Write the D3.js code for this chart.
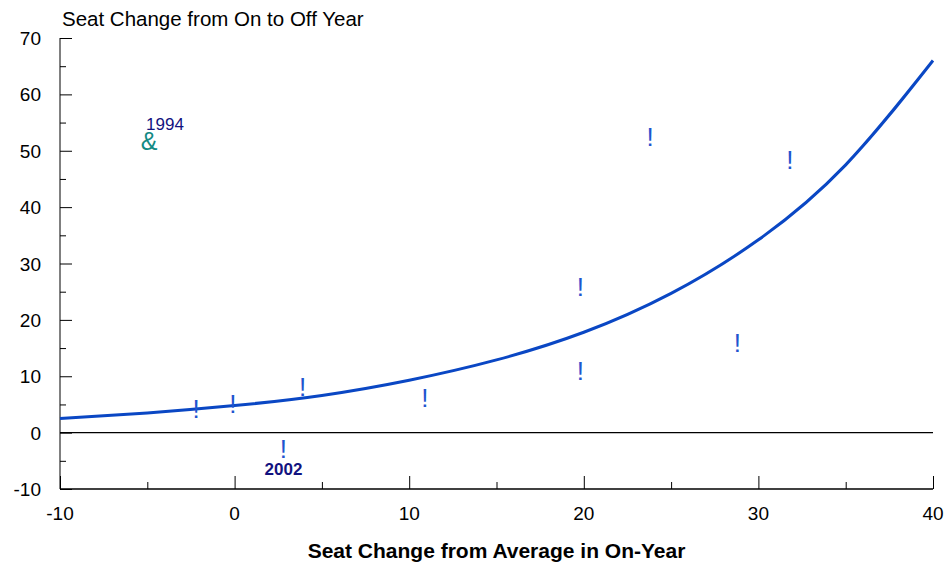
<!DOCTYPE html>
<html>
<head>
<meta charset="utf-8">
<script src="https://cdn.jsdelivr.net/npm/d3@7"></script>
<style>
  body { margin: 0; background: #fff; }
  text { font-family: "Liberation Sans", Arial, sans-serif; }
</style>
</head>
<body>
<svg id="chart" width="948" height="565"></svg>
<script>
// observed elections: seat change from average in on-year (x) vs change to off-year (y)
const pointX = [-2.2, -0.1, 3.9, 10.9, 2.8, 19.8, 19.8, 23.8, 31.8, 28.8];
const pointY = [4.2, 5.1, 8.1, 6.2, -2.9, 25.8, 10.9, 52.4, 48.3, 15.9];
const pointLabel = ["", "", "", "", "2002", "", "", "", "", ""];

// 1994 drawn with its own symbol
const outlierX = [-4.9];
const outlierY = [51.7];
const outlierLabel = ["1994"];

// fitted curve
const curveX = [-10, -5, 0, 5, 10, 15, 20, 25, 30, 35, 40];
const curveY = [2.5, 3.5, 4.8, 6.6, 9.3, 12.9, 17.8, 24.7, 34.2, 47.5, 66];

const xTicks = [-10, 0, 10, 20, 30, 40];
const yTicks = [-10, 0, 10, 20, 30, 40, 50, 60, 70];

const svg = d3.select("#chart");
const x = d3.scaleLinear().domain([-10, 40]).range([60, 933]);
const y = d3.scaleLinear().domain([-10, 70]).range([489, 38]);

// y axis, ticks pointing inward
const yAxis = d3.axisRight(y)
  .tickValues(d3.range(-10, 71, 5))
  .tickSize(6)
  .tickFormat("");
const gy = svg.append("g").attr("transform", "translate(60,0)").call(yAxis);
gy.selectAll(".tick line").filter(d => d % 10 === 0).attr("x2", 12);
gy.select(".domain").attr("d", "M0,38V489");

svg.append("g").selectAll("text")
  .data(yTicks)
  .enter().append("text")
  .attr("x", 41)
  .attr("y", d => y(d) + 7)
  .attr("text-anchor", "end")
  .attr("font-size", 19)
  .text(d => d);

// x axis, ticks pointing up
const xAxis = d3.axisTop(x)
  .tickValues(d3.range(-10, 41, 5))
  .tickSize(7)
  .tickFormat("");
const gx = svg.append("g").attr("transform", "translate(0,489)").call(xAxis);
gx.selectAll(".tick line").filter(d => d % 10 === 0).attr("y2", -13);
gx.select(".domain").attr("d", "M60,0H933").attr("stroke-width", 1.5);

svg.append("g").selectAll("text")
  .data(xTicks)
  .enter().append("text")
  .attr("x", d => x(d))
  .attr("y", 520)
  .attr("text-anchor", "middle")
  .attr("font-size", 19)
  .text(d => d);

// zero line
svg.append("line")
  .attr("x1", x(-10)).attr("x2", x(40))
  .attr("y1", y(0)).attr("y2", y(0))
  .attr("stroke", "#000").attr("stroke-width", 1.3);

// curve
const line = d3.line()
  .x((d, i) => x(curveX[i]))
  .y(d => y(d))
  .curve(d3.curveNatural);
svg.append("path")
  .datum(curveY)
  .attr("d", line)
  .attr("fill", "none")
  .attr("stroke", "#0a47c4")
  .attr("stroke-width", 3);

// points
const pts = pointX.map((d, i) => ({ x: d, y: pointY[i], label: pointLabel[i] }));

svg.append("g").selectAll("text")
  .data(pts)
  .enter().append("text")
  .attr("x", d => x(d.x))
  .attr("y", d => y(d.y) + 9)
  .attr("text-anchor", "middle")
  .attr("font-size", 26)
  .attr("fill", "#1f55cf")
  .text("!");

svg.append("g").selectAll("text")
  .data(pts.filter(d => d.label !== ""))
  .enter().append("text")
  .attr("x", d => x(d.x))
  .attr("y", d => y(d.y) + 26)
  .attr("text-anchor", "middle")
  .attr("font-size", 17)
  .attr("font-weight", "bold")
  .attr("fill", "#12127f")
  .text(d => d.label);

const outs = outlierX.map((d, i) => ({ x: d, y: outlierY[i], label: outlierLabel[i] }));

svg.append("g").selectAll("text")
  .data(outs)
  .enter().append("text")
  .attr("x", d => x(d.x))
  .attr("y", d => y(d.y) + 9)
  .attr("text-anchor", "middle")
  .attr("font-size", 25)
  .attr("fill", "#138a84")
  .text("&");

svg.append("g").selectAll("text")
  .data(outs)
  .enter().append("text")
  .attr("x", d => x(d.x) - 3)
  .attr("y", d => y(d.y) - 11)
  .attr("font-size", 17)
  .attr("fill", "#12127f")
  .text(d => d.label);

// titles
svg.append("text")
  .attr("x", 62).attr("y", 26)
  .attr("font-size", 20.5)
  .text("Seat Change from On to Off Year");

svg.append("text")
  .attr("x", x(15)).attr("y", 558)
  .attr("text-anchor", "middle")
  .attr("font-size", 21)
  .attr("font-weight", "bold")
  .text("Seat Change from Average in On-Year");
</script>
</body>
</html>
